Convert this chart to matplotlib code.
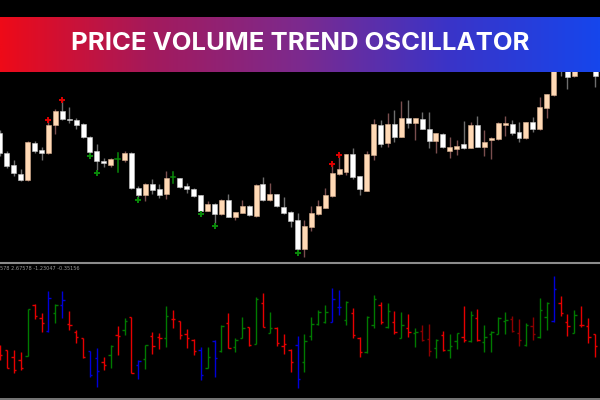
import numpy as np
import matplotlib
matplotlib.use("Agg")
import matplotlib.pyplot as plt
from matplotlib.colors import LinearSegmentedColormap
from matplotlib.patches import Rectangle
from matplotlib.lines import Line2D

title = "PRICE VOLUME TREND OSCILLATOR"
osc_label = "578 2.67578 -1.23047 -0.35156"

# ---- price candles (arbitrary price units) ----
c_open = [167, 147, 135, 126, 120, 157.3, 150, 146.7, 174.7, 189.3,
          181, 180, 176.3, 163.3, 149, 139, 135, 140.7, 140, 147.3,
          112.3, 105, 116, 111.3, 105.7, 122.7, 122.3, 114, 111.3, 105,
          89.3, 96, 86, 100, 83.3, 87.3, 94.3, 84, 116, 100,
          105.7, 93.3, 88.3, 80, 51, 73.3, 86, 92.3, 104, 126,
          128.3, 145.7, 124, 109.3, 145, 175.3, 156.7, 176.3, 163.3, 181.7,
          176.7, 181.3, 171.3, 159, 166.3, 149.3, 151.3, 155.7, 152.3, 175,
          153.3, 160, 161, 175.3, 176, 168, 161.7, 178, 171, 192.3,
          205, 250, 236, 224, 240, 252, 238]
c_high = [170, 149, 140, 131, 159, 159, 153.3, 180, 191, 200,
          193, 182, 177, 164, 155.7, 142, 142, 147, 149.3, 148,
          114, 117, 121, 115.7, 129, 128.3, 122.3, 116.7, 112, 105,
          99.3, 97, 101, 106, 88, 100, 95, 116, 122.7, 117.3,
          106, 103.3, 89, 87.3, 80, 94, 100, 111.7, 135.7, 145,
          146, 151.7, 124.5, 149, 180.7, 180, 187.3, 190, 199, 200,
          182, 187.7, 187.7, 167, 167, 163.3, 160, 179, 178.3, 184,
          170, 163.3, 178.3, 184.3, 180, 178.3, 178.5, 183.3, 202.7, 206,
          245, 255, 240, 242, 260, 258, 242]
c_low = [144, 132, 124, 119, 119, 147, 140, 146, 166, 180,
         177, 171, 162, 147, 130, 133, 133, 128.3, 138.3, 111,
         102.7, 99.3, 106, 101.7, 101, 116.7, 111.7, 106.7, 103, 89,
         89, 76.7, 85, 83, 80, 87, 84, 83.5, 99, 99.5,
         93, 86, 72.7, 50, 43.3, 69.3, 85, 92, 103.5, 125,
         125, 120.7, 105, 109, 140, 152.7, 153.3, 158.3, 163, 171.7,
         160, 171, 151.7, 147.3, 152, 141.7, 145, 151, 152, 153,
         144, 141.3, 160.5, 164, 165, 158.3, 161.5, 168.3, 170.5, 181.7,
         204.5, 224, 210.7, 223.5, 234, 234, 213.3]
c_close = [147, 134, 127, 120, 158, 149, 146.7, 175.3, 189.3, 180.7,
           180, 175.3, 163, 148, 139.3, 136.7, 141, 140.7, 147, 111.7,
           105, 116, 110, 105.3, 122.3, 122.7, 113.3, 111.3, 104, 89.3,
           95.7, 86, 100, 83.3, 87.7, 94.3, 85, 115, 100, 105.7,
           94, 86.7, 79.3, 51, 74.3, 87.3, 93.7, 105, 126.7, 131,
           145.7, 123.3, 110.7, 145.7, 176.3, 156, 176.3, 163, 181.7, 176.7,
           181.7, 171.3, 159.3, 166.7, 152.7, 153, 154, 151.7, 175, 153.3,
           158.3, 162, 176.7, 177, 167.3, 162.3, 178, 171, 193, 205.7,
           240, 235, 223.3, 238, 255, 238, 224]

sell_signals = [7, 9, 48, 49]          # red crosses at highs
buy_signals = [13, 14, 20, 29, 31, 43]  # green crosses under lows

# ---- oscillator OHLC bars ----
o_open = [49, 50, 42.7, 40, 44, 95, 81.7, 69, 86.7, 95,
          75.7, 68.3, 61.7, 49, 41.7, 38.3, 45, 65, 70, 82.7,
          35, 40.7, 64, 63.3, 61.7, 80.7, 79, 66, 60.3, 50,
          32.3, 59.3, 49, 76.7, 53.3, 61.7, 72.7, 55.7, 96.7, 66.7,
          72.3, 54.3, 50, 55, 37.7, 64, 75.7, 77.7, 78.3, 93,
          80, 86.7, 62.3, 48.3, 75, 95, 73.3, 78.3, 62.3, 71.7,
          66.7, 69, 60.7, 52.3, 65, 50, 59, 63.3, 59, 81.7,
          57.7, 66, 66, 79, 80.7, 66.7, 55, 74.3, 63.3, 83.3,
          79, 97.3, 78.3, 66.7, 75, 74, 65.7]
o_high = [55, 50, 50, 48.3, 91, 95.7, 86.7, 109, 95.7, 109,
          89, 70, 61.7, 49, 51.7, 43.3, 55, 74, 81.7, 83.3,
          40, 55, 67.7, 66.7, 94.3, 90, 79, 71, 61, 53.3,
          53.3, 60, 75, 86.7, 61.7, 83.3, 72.7, 103.3, 106.7, 88.3,
          72.7, 65.7, 50.7, 64, 65.7, 83.3, 90, 95, 111.7, 110,
          99, 92.3, 63.3, 84, 105, 98.3, 97.3, 89, 87.7, 85.7,
          71.7, 75, 75.7, 61, 69, 65.7, 66.7, 94, 89, 91,
          75, 69, 83.3, 87.7, 84.3, 80.7, 77.3, 83, 102.3, 98.3,
          124.3, 104, 85.7, 90, 94.3, 81.7, 65.7]
o_low = [40, 32.3, 26.7, 30, 44, 80.7, 68.3, 68.3, 76.7, 81.7,
         70, 56.7, 42.3, 23.3, 13.3, 30, 31.7, 45, 65, 26.7,
         21, 30.7, 46, 51, 53.3, 72.3, 61, 52.3, 45, 20,
         31.7, 23.3, 48.3, 51.7, 48.3, 61.7, 54.3, 55.7, 73.3, 66.7,
         54.3, 45.7, 28.3, 12.3, 28.3, 60, 75, 76.7, 78.3, 85,
         75, 62.3, 43.3, 47.3, 71.7, 76, 71.7, 65.7, 61.7, 63.3,
         53.3, 59, 44.3, 41.7, 49.3, 41.7, 51, 58.3, 58.3, 59.3,
         48.3, 47.7, 65.7, 65.7, 67.7, 54.3, 54.3, 60, 62.3, 70,
         78.3, 84.3, 64.3, 66.7, 72.7, 57.3, 42.7]
o_close = [45, 32.3, 30, 31.7, 91, 84, 77.3, 101.7, 95, 100,
           75, 63.3, 43.3, 25, 29, 35, 54.3, 64.3, 79, 26.7,
           39, 55, 54.3, 62.3, 84.3, 80.7, 65, 62.3, 49.3, 25,
           43.3, 41.7, 74.3, 51.7, 60, 72.3, 55, 100.7, 73.3, 72.3,
           56.7, 55.7, 37.7, 20.7, 59, 75.7, 87.7, 88.3, 100.7, 93,
           98.3, 65, 48.3, 83.3, 100.7, 78.3, 89, 68.3, 75, 67.7,
           67.7, 60, 49.3, 60, 50, 54.3, 66.7, 60, 85, 60,
           63.3, 67.7, 82.3, 80, 69, 60, 75, 65.7, 90, 97.3,
           111, 86.7, 74.3, 85, 75, 63.3, 54]
o_state = list("rrrrgrrbgb" "rrrbbrgrgr" "bgrrgrrrrb" "gbgrggrgrg"
               "rrrbggggbb" "grrggrgrgr" "gddgrggrgr" "ggggddgdgg"
               "brrgrrr")

state_colors = {"r": "#e60000", "g": "#007a00", "b": "#0000d8", "d": "#8c0000"}

W, H = 600, 400
fig = plt.figure(figsize=(6, 4), dpi=100, facecolor="black")

step = 6.92  # pixels per bar
xmax = W / step

# upper price panel: pixel rows 0..262
ax = fig.add_axes([0, (H - 262) / H, 1, 262 / H])
ax.set_facecolor("black")
ax.set_xlim(0, xmax)
ax.set_ylim(38, 300)
ax.axis("off")

bw = 0.72
for i in range(len(c_open)):
    o, hi, lo, c = c_open[i], c_high[i], c_low[i], c_close[i]
    if o == c:
        ax.plot([i, i], [lo, hi], color="#0a8a0a", lw=1.1, zorder=2)
        ax.plot([i - 0.35, i + 0.35], [o, o], color="#0a8a0a", lw=1.1, zorder=2)
        continue
    bull = c > o
    wick = "#7a4e4e" if bull else "#6e6e6e"
    face = "#ffd9b5" if bull else "#ffffff"
    edge = "#d9b090" if bull else "#c8c8c8"
    ax.plot([i, i], [lo, hi], color=wick, lw=1.0, zorder=1, solid_capstyle="butt")
    ax.add_patch(Rectangle((i - bw / 2, min(o, c)), bw, abs(c - o),
                           facecolor=face, edgecolor=edge, lw=0.4, zorder=2))

for i in sell_signals:
    ax.plot(i, c_high[i], marker="+", color="#e00000", ms=4.2, mew=1.4, zorder=3)
for i in buy_signals:
    ax.plot(i, c_low[i] - 2.5, marker="+", color="#0a8a0a", ms=4.2, mew=1.4, zorder=3)

# lower oscillator panel: pixel rows 264..398
ax2 = fig.add_axes([0, 2 / H, 1, 134 / H])
ax2.set_facecolor("black")
ax2.set_xlim(0, xmax)
ax2.set_ylim(2, 136)
ax2.axis("off")
tk = 0.34
for i in range(len(o_open)):
    col = state_colors[o_state[i]]
    ax2.plot([i, i], [o_low[i], o_high[i]], color=col, lw=1.0, solid_capstyle="butt")
    ax2.plot([i - tk, i], [o_open[i], o_open[i]], color=col, lw=1.0, solid_capstyle="butt")
    ax2.plot([i, i + tk], [o_close[i], o_close[i]], color=col, lw=1.0, solid_capstyle="butt")

fig.text(0.0, 1 - 268.5 / H, osc_label, color="#9a9a9a", fontsize=3.6,
         ha="left", va="center", family="DejaVu Sans")

# separator lines
fig.add_artist(Line2D([0, 1], [1 - 263.2 / H] * 2, color="#8c8c8c", lw=1.5))
fig.add_artist(Line2D([0, 1], [1 - 398.8 / H] * 2, color="#8c8c8c", lw=1.2))

# banner
bax = fig.add_axes([0, (H - 72) / H, 1, 55 / H])
bax.set_xlim(0, 1)
bax.set_ylim(0, 1)
bax.axis("off")
cmap = LinearSegmentedColormap.from_list("bn", ["#ee0a18", "#a41a5c", "#7c2a8e", "#3a34c8", "#1646ec"])
grad = np.linspace(0, 1, 512).reshape(1, -1)
bax.imshow(grad, cmap=cmap, aspect="auto", extent=[0, 1, 0, 1], zorder=0)
t = bax.text(0.5, (72 - 50) / 55, title, color="white", fontsize=20,
             fontweight="bold", family="Inter", ha="center", va="baseline", zorder=2)
fig.canvas.draw()
bb = t.get_window_extent()
t.set_fontsize(20 * 458 / bb.width)

fig.savefig("out.png", dpi=100, facecolor="black")
